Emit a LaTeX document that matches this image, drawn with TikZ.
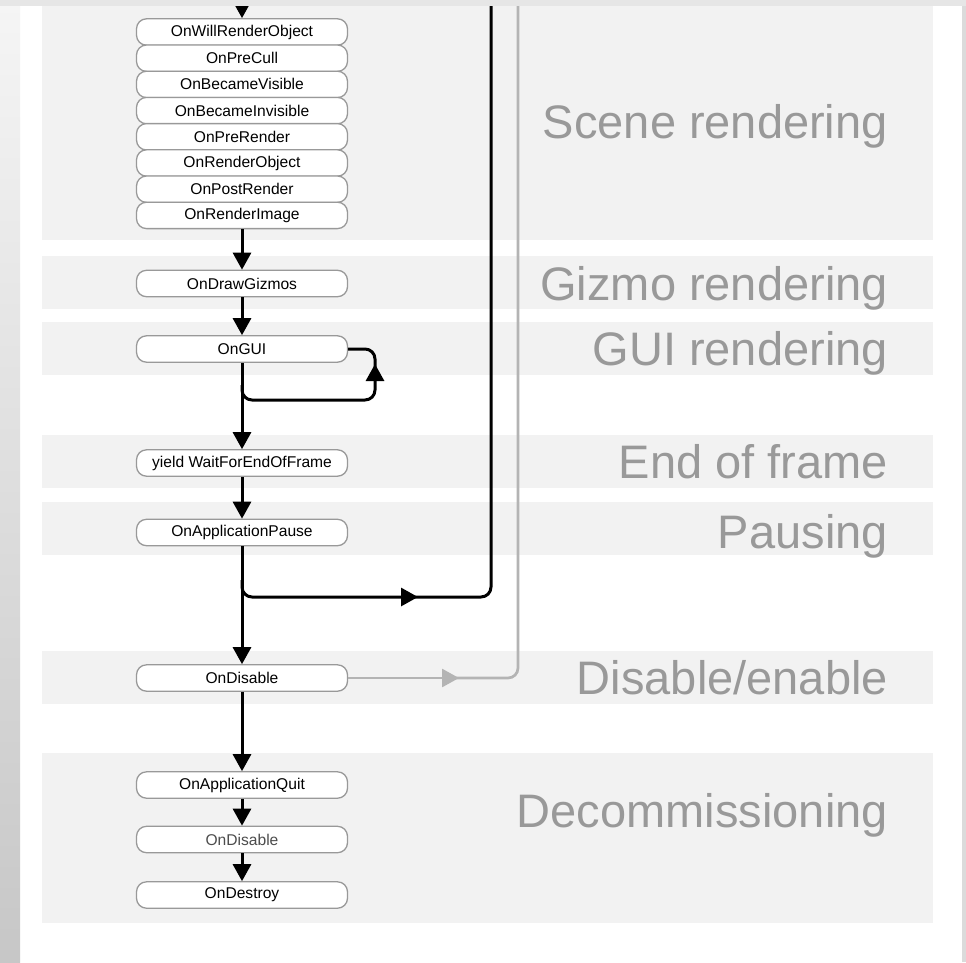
\documentclass[tikz,border=0pt]{standalone}
\usepackage{fontspec}
\setmainfont{Liberation Sans}
\usetikzlibrary{arrows.meta}

\definecolor{bandgray}{HTML}{F2F2F2}
\definecolor{labelgray}{HTML}{999999}
\definecolor{boxedge}{HTML}{999999}
\definecolor{backline}{HTML}{B4B4B4}
\definecolor{framegray}{HTML}{E6E6E6}

\begin{document}
\begin{tikzpicture}[x=1pt, y=-1pt,
  band/.style={fill=bandgray},
  phase/.style={anchor=base east, inner sep=0pt, text=labelgray, font=\fontsize{47}{52}\selectfont},
  event/.style={draw=boxedge, line width=1.3pt, fill=white, rounded corners=10pt,
    minimum width=211pt, minimum height=26.4pt, inner sep=0pt, font=\fontsize{15.6}{18}\selectfont},
  tip/.style={-{Triangle[length=17pt,width=18pt]}},
  flow/.style={line width=3pt, tip},
  flowline/.style={line width=3pt, rounded corners=10pt},
  backflow/.style={line width=2.7pt, draw=backline, rounded corners=10pt}]

  %% ════ page and bands ════
  \fill[framegray] (0,0) rectangle (966,962);
  \fill[white] (20,6) rectangle (962,962);
  \fill[band] (42,6)   rectangle (933,240);   % scene
  \fill[band] (42,256) rectangle (933,309);   % gizmo
  \fill[band] (42,322) rectangle (933,375);   % gui
  \fill[band] (42,435) rectangle (933,488);   % end of frame
  \fill[band] (42,502) rectangle (933,555);   % pausing
  \fill[band] (42,651) rectangle (933,704);   % disable
  \fill[band] (42,753) rectangle (933,923);   % decommissioning

  %% ════ phase labels ════
  \node[phase] (lblScene)  at (888,138) {Scene rendering};
  \node[phase] (lblGizmo)  at (888,300) {Gizmo rendering};
  \node[phase] (lblGui)    at (888,365) {GUI rendering};
  \node[phase] (lblEnd)    at (888,478) {End of frame};
  \node[phase] (lblPause)  at (888,548) {Pausing};
  \node[phase] (lblEnable) at (888,694) {Disable/enable};
  \node[phase] (lblQuit)   at (888,827) {Decommissioning};

  %% ════ events ════
  \foreach \name/\txt [count=\i from 0] in {s1/OnWillRenderObject, s2/OnPreCull,
      s3/OnBecameVisible, s4/OnBecameInvisible, s5/OnPreRender,
      s6/OnRenderObject, s7/OnPostRender, s8/OnRenderImage}
    \node[event] (\name) at (242,{32+26.2*\i}) {\txt};

  \node[event] (gizmos)  at (242,283.5) {OnDrawGizmos};
  \node[event] (ongui)   at (242,349.0) {OnGUI};
  \node[event] (eof)     at (242,463.0) {yield WaitForEndOfFrame};
  \node[event] (pause)   at (242,532.5) {OnApplicationPause};
  \node[event] (disable) at (242,678.0) {OnDisable};
  \node[event] (quit)    at (242,785.0) {OnApplicationQuit};
  \node[event, text=black!70] (disable2) at (242,839.5) {OnDisable};
  \node[event] (destroy) at (242,895.0) {OnDestroy};

  %% ════ main flow ════
  \coordinate (feedIn) at (242,0);
  \draw[flow] (feedIn) -- (s1);
  \draw[flow] (s8) -- (gizmos);
  \draw[flow] (gizmos) -- (ongui);
  \draw[flow] (ongui) -- (eof);
  \draw[flow] (eof) -- (pause);
  \draw[flow] (pause) -- (disable);
  \draw[flow] (disable) -- (quit);
  \draw[flow] (quit) -- (disable2);
  \draw[flow] (disable2) -- (destroy);

  %% ════ GUI loop ════
  \coordinate (guiTurn) at (375,400);
  \coordinate (guiTip)  at (375,364);
  \draw[flowline, tip] (242,385) |- (guiTurn) -- (guiTip);
  \draw[flowline] (375,370) |- (ongui.east);

  %% ════ back to the frame loop ════
  \coordinate (pauseTip) at (418,597);
  \coordinate (frameTop) at (491,0);
  \draw[flowline, tip] (242,580) |- (pauseTip);
  \draw[flowline] (410,597) -| (frameTop);

  \coordinate (enableTip) at (459,678);
  \coordinate (enableTop) at (518,0);
  \draw[backflow, tip] (disable.east) -- (enableTip);
  \draw[backflow] (452,678) -| (enableTop);

  %% ════ frame edges ════
  \fill[framegray] (0,0) rectangle (966,6);
  \shade[top color=black!4, bottom color=black!22] (0,6) rectangle (20,962);
  \fill[black!14] (962,6) rectangle (966,962);

  \pgfresetboundingbox
  \path[use as bounding box] (0,0) rectangle (966,962);
\end{tikzpicture}
\end{document}
